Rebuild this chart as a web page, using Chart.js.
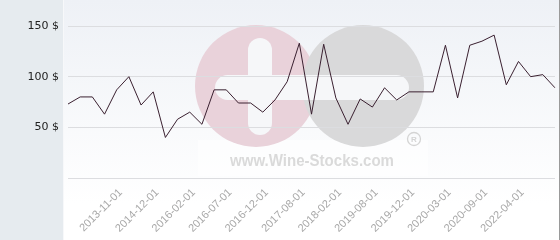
<!DOCTYPE html>
<html>
<head>
<meta charset="utf-8">
<script src="https://cdn.jsdelivr.net/npm/chart.js@4/dist/chart.umd.min.js"></script>
<style>
  html, body { margin: 0; padding: 0; background: #fff; }
  #wrap { width: 560px; height: 240px; }
</style>
</head>
<body>
<div id="wrap"><canvas id="price-chart" width="560" height="240"></canvas></div>
<script>
// one entry per point; only the dates shown on the axis are known
var categories = [
  "", "", "", "", "2013-11-01", "", "", "2014-12-01", "", "",
  "2016-02-01", "", "", "2016-07-01", "", "", "2016-12-01", "", "", "2017-08-01",
  "", "", "2018-02-01", "", "", "2019-08-01", "", "", "2019-12-01", "",
  "", "2020-03-01", "", "", "2020-09-01", "", "", "2022-04-01", "", "", ""
];
var prices = [
  73, 80, 80, 63, 87, 100, 72, 85, 40, 58,
  65, 53, 87, 87, 74, 74, 65, 77, 95, 133,
  63, 132, 79, 53, 78, 70, 89, 77, 85, 85,
  85, 131, 79, 131, 135, 141, 92, 115, 100, 102, 89
];
var yTicks = [0, 50, 100, 150];

(function () {
  var canvas = document.getElementById("price-chart");
  var ctx = canvas.getContext("2d");

  function pill(c, x, y, w, h) {
    c.beginPath();
    c.roundRect(x, y, w, h, Math.min(w, h) / 2);
    c.fill();
  }

  var backdrop = {
    id: "backdrop",
    beforeDraw: function (chart) {
      var c = chart.ctx;
      var W = chart.width, H = chart.height;
      c.save();
      // left panel
      c.fillStyle = "#e6ebef";
      c.fillRect(0, 0, 63, H);
      c.fillStyle = "#f7f8fa";
      c.fillRect(63, 0, 1, H);
      // plot background
      var g = c.createLinearGradient(0, 0, 0, H);
      g.addColorStop(0, "#eef1f6");
      g.addColorStop(0.85, "#ffffff");
      c.fillStyle = g;
      c.fillRect(64, 0, W - 64, H);
      // right border
      c.fillStyle = "#9a9a9a";
      c.fillRect(W - 1, 0, 1, H);

      // watermark
      c.fillStyle = "rgba(255,255,255,0.55)";
      c.fillRect(198, 140, 230, 36);
      c.fillStyle = "#e9d2da";
      c.beginPath();
      c.arc(256, 86, 61, 0, Math.PI * 2);
      c.fill();
      c.fillStyle = "#d9d9da";
      c.beginPath();
      c.arc(363, 86, 61, 0, Math.PI * 2);
      c.fill();
      c.fillStyle = "#f6f7f9";
      pill(c, 215, 75, 194, 25);
      pill(c, 248, 38, 24, 97);
      c.fillStyle = "#dadada";
      c.font = "bold 16px 'Liberation Sans', Arial, sans-serif";
      c.textBaseline = "alphabetic";
      c.textAlign = "left";
      var txt = "www.Wine-Stocks.com";
      var tw = c.measureText(txt).width;
      c.save();
      c.translate(230, 166);
      c.scale(164 / tw, 1);
      c.fillText(txt, 0, 0);
      c.restore();
      c.strokeStyle = "#d4d4d4";
      c.lineWidth = 1.3;
      c.beginPath();
      c.arc(414, 139, 6.5, 0, Math.PI * 2);
      c.stroke();
      c.font = "bold 8px 'Liberation Sans', Arial, sans-serif";
      c.fillStyle = "#d4d4d4";
      c.textAlign = "center";
      c.textBaseline = "middle";
      c.fillText("R", 414, 139.5);
      c.restore();
    }
  };

  new Chart(ctx, {
    type: "line",
    data: {
      labels: categories,
      datasets: [
        {
          data: prices,
          borderColor: "#3a2030",
          borderWidth: 1,
          pointRadius: 0,
          tension: 0,
          fill: false
        }
      ]
    },
    options: {
      responsive: false,
      animation: false,
      events: [],
      layout: { padding: { top: 26, right: 5, left: 0, bottom: 0 } },
      scales: {
        x: {
          grid: { display: false },
          border: { display: false },
          afterFit: function (s) { s.height = 62; s.paddingLeft = 0; s.paddingRight = 0; },
          ticks: {
            autoSkip: false,
            minRotation: 45,
            maxRotation: 45,
            padding: 0,
            labelOffset: 4,
            color: "#a8a8a8",
            font: { family: "'Liberation Sans', Arial, sans-serif", size: 11 }
          }
        },
        y: {
          min: 0,
          max: 150,
          afterFit: function (s) { s.width = 68; },
          afterBuildTicks: function (s) {
            s.ticks = yTicks.map(function (v) { return { value: v }; });
          },
          grid: { color: "#dcdde0", drawTicks: false, lineWidth: 1 },
          border: { display: false },
          ticks: {
            padding: 9,
            color: "#222",
            font: { family: "'DejaVu Sans', sans-serif", size: 11 },
            callback: function (v) { return v === 0 ? "" : v + " $"; }
          }
        }
      },
      plugins: {
        legend: { display: false },
        tooltip: { enabled: false }
      }
    },
    plugins: [backdrop]
  });
})();
</script>
</body>
</html>
